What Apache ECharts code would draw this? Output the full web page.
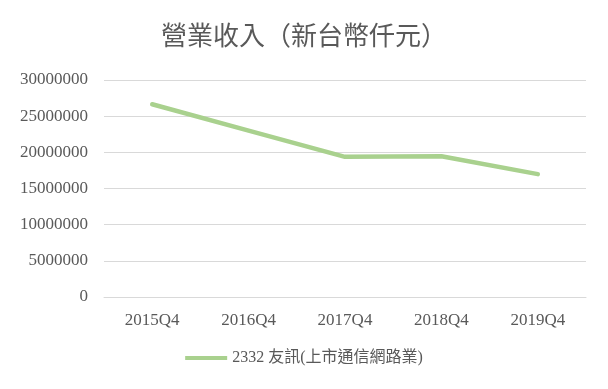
<!DOCTYPE html>
<html><head><meta charset="utf-8">
<script src="https://cdn.jsdelivr.net/npm/echarts@6/dist/echarts.min.js"></script>
<style>html,body{margin:0;padding:0;background:#fff}#c{width:608px;height:389px}</style>
</head><body><div id="c"></div>
<script>
var categories = ['2015Q4','2016Q4','2017Q4','2018Q4','2019Q4'];
var revenue = [26650000, 23000000, 19380000, 19470000, 16990000];
var yTicks = {min: 0, max: 30000000, interval: 5000000};
var seriesName = '2332 友訊(上市通信網路業)';
var titleText = '營業收入（新台幣仟元）';

var chart = echarts.init(document.getElementById('c'));
chart.setOption({
  animation: false,
  title: {text: titleText, left: 'center', top: 20,
    textStyle: {color: '#595959', fontSize: 26, fontWeight: 'normal', fontFamily: "'Liberation Serif','Noto Sans CJK TC',serif"}},
  legend: {bottom: 18, left: 'center', itemWidth: 42, itemHeight: 4, itemGap: 6,
    textStyle: {color: '#595959', fontSize: 16, fontFamily: "'Liberation Serif','Noto Sans CJK TC',serif"},
    data: [{name: seriesName, icon: 'path://M0,0 L42,0 L42,4 L0,4 Z'}]},
  grid: {left: 104, right: 22, top: 80, bottom: 92, containLabel: false},
  xAxis: {type: 'category', data: categories, boundaryGap: true,
    axisLine: {lineStyle: {color: '#d9d9d9'}}, axisTick: {show: false},
    axisLabel: {color: '#595959', fontSize: 17, margin: 15, fontFamily: "'Liberation Serif',serif"}},
  yAxis: {type: 'value', min: yTicks.min, max: yTicks.max, interval: yTicks.interval,
    axisLine: {show: false}, axisTick: {show: false},
    splitLine: {lineStyle: {color: '#d9d9d9'}},
    axisLabel: {color: '#595959', fontSize: 17, margin: 16, fontFamily: "'Liberation Serif',serif",
      formatter: function (v) { return String(v); }}},
  series: [{name: seriesName, type: 'line', data: revenue, symbol: 'none',
    lineStyle: {color: '#A9D18E', width: 4.5, cap: 'round', join: 'round'},
    itemStyle: {color: '#A9D18E'}}]
});
</script></body></html>
